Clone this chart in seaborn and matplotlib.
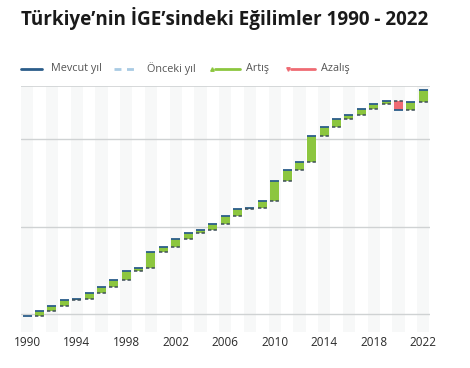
import numpy as np
import matplotlib
matplotlib.use("Agg")
import matplotlib.pyplot as plt
from matplotlib.lines import Line2D
import seaborn as sns

OUTPUT_PATH = "out.png"

# Türkiye HDI (İGE) by year
years = list(range(1990, 2023))
hdi = [0.598, 0.604, 0.610, 0.616, 0.618, 0.624, 0.631, 0.639, 0.650, 0.653,
       0.671, 0.677, 0.686, 0.693, 0.697, 0.703, 0.713, 0.720, 0.722, 0.730,
       0.752, 0.765, 0.774, 0.804, 0.814, 0.823, 0.828, 0.835, 0.840, 0.844,
       0.834, 0.843, 0.857]
tick_years = [1990, 1994, 1998, 2002, 2006, 2010, 2014, 2018, 2022]
grid_values = [0.6, 0.7, 0.8]
legend_labels = ["Mevcut yıl", "Önceki yıl", "Artış", "Azalış"]
title = "Türkiye’nin İGE’sindeki Eğilimler 1990 - 2022"

GREEN = "#8cc63f"
RED = "#ef6b73"
CUR = "#2b5d8a"
PREV = "#3f4f5a"
PREV_LEG = "#a9cbe4"
STRIPE = "#f7f8f8"
GRID = "#cfd2d3"
FONT = "Open Sans"


def main():
    sns.set_theme(style="white")
    plt.rcParams["font.family"] = [FONT, "DejaVu Sans"]

    fig = plt.figure(figsize=(4.7, 3.68), dpi=100)
    ax = fig.add_axes([21 / 470, 1 - 332 / 368, 409 / 470, 246 / 368])

    width = 0.72
    # alternating year stripes
    for yr in years:
        if yr % 2 == 0:
            ax.axvspan(yr - 0.5, yr + 0.5, color=STRIPE, lw=0, zorder=0)
    for g in grid_values:
        ax.axhline(g, color=GRID, lw=1, zorder=1)
    ax.axhline(0.861, color=GRID, lw=1.2, zorder=1)

    prev = np.array(hdi[:-1])
    cur = np.array(hdi[1:])
    xs = np.array(years[1:])
    diff = cur - prev
    colors = [GREEN if d >= 0 else RED for d in diff]
    ax.bar(xs, diff, bottom=prev, width=width, color=colors, lw=0, zorder=2)

    ax.hlines(hdi, np.array(years) - width / 2, np.array(years) + width / 2,
              color=CUR, lw=1.3, zorder=3)
    ax.hlines(prev, xs - width / 2, xs + width / 2, color=PREV, lw=1.1,
              linestyles=(0, (2.2, 1.4)), zorder=3)

    ax.set_xlim(1989.5, 2022.55)
    ax.set_ylim(0.58, 0.861)
    ax.set_xticks(tick_years)
    ax.set_xticklabels([str(t) for t in tick_years], fontsize=8.5, color="#2b2b2b")
    ax.tick_params(axis="x", length=0, pad=3)
    ax.set_yticks([])
    sns.despine(ax=ax, left=True, bottom=True, top=True, right=True)

    fig.text(21 / 470, 1 - 18 / 368, title, fontsize=13.6, fontweight="bold",
             color="#1a1a1a", va="center", ha="left")

    # legend drawn by hand
    ly = 1 - 69 / 368
    items = [
        (21, 42, CUR, "-", None, 51),
        (114, 138, PREV_LEG, (0, (2.5, 2)), None, 147),
        (215, 240, GREEN, "-", "^", 246),
        (291, 315, RED, "-", "v", 321),
    ]
    for (x0, x1, col, ls, mk, tx), lab in zip(items, legend_labels):
        fig.add_artist(Line2D([x0 / 470, x1 / 470], [ly, ly], color=col, lw=2,
                              linestyle=ls, transform=fig.transFigure))
        if mk:
            fig.add_artist(Line2D([(x0 - 3) / 470], [ly], color=col, marker=mk,
                                  ms=2.5, ls="", transform=fig.transFigure))
        fig.text(tx / 470, ly, lab, fontsize=7.8, color="#555555",
                 va="center", ha="left")

    fig.savefig(OUTPUT_PATH, dpi=100)
    plt.close(fig)


if __name__ == "__main__":
    main()
